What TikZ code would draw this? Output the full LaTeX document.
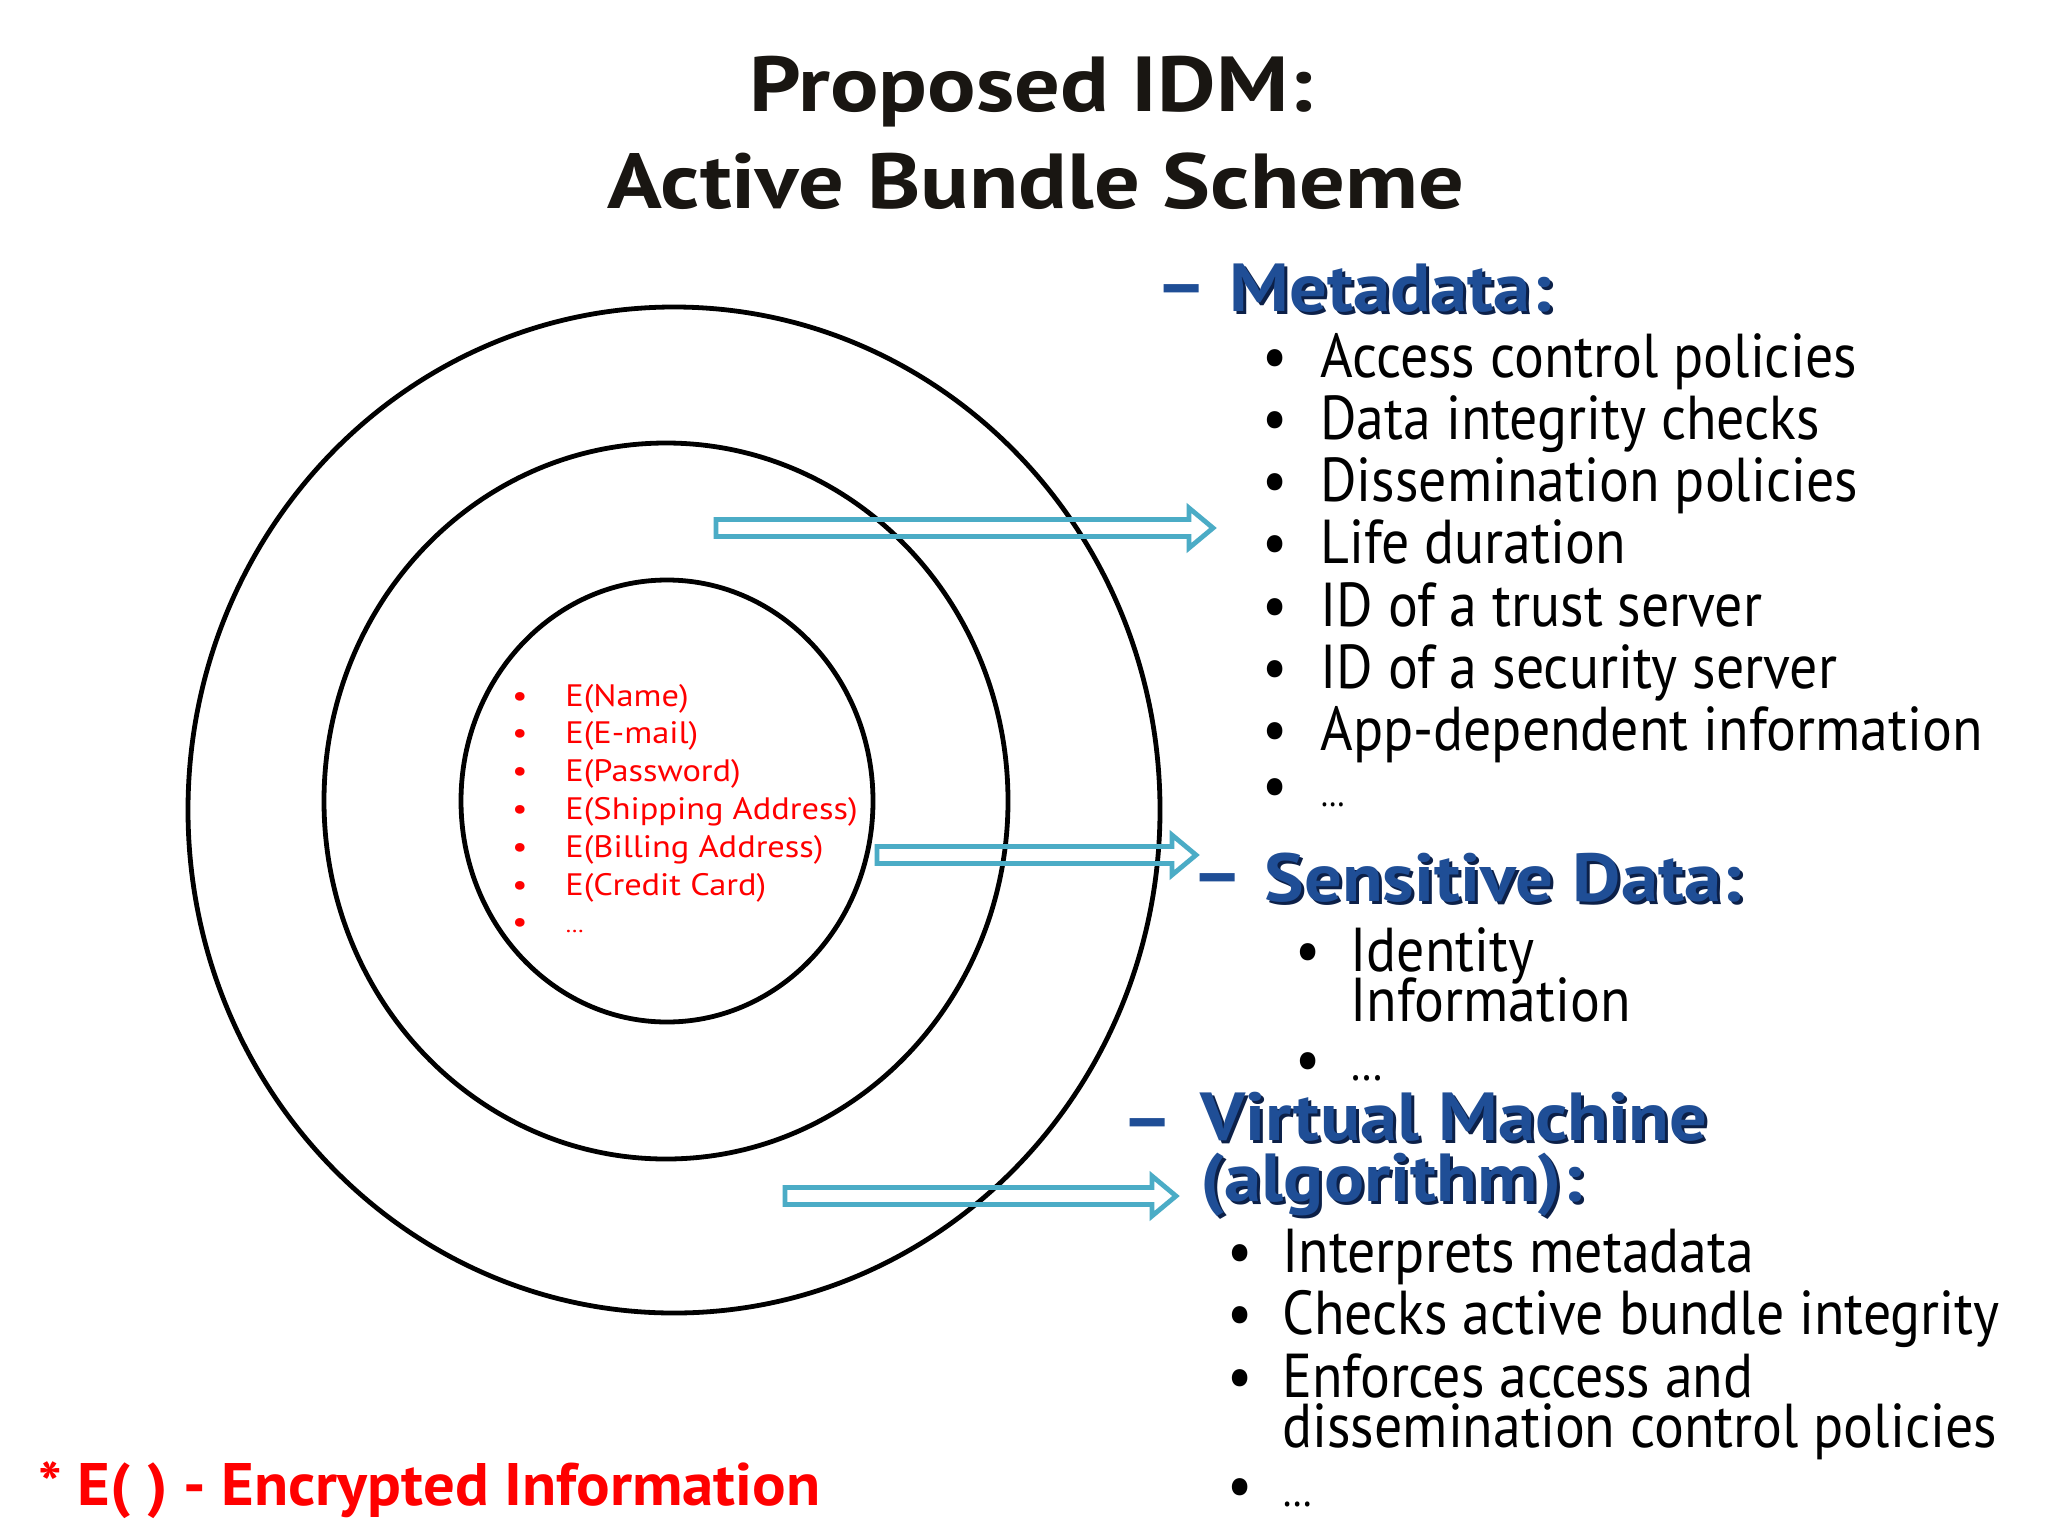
\documentclass[tikz,border=0pt]{standalone}
\usepackage{fontspec}
\setmainfont{PT Sans}
\newfontfamily\bodyf{PT Sans}[FakeStretch=0.9]
\newfontfamily\redf{PT Sans}[FakeStretch=1.11]
\newfontfamily\titlef{PT Sans}[FakeStretch=1.16]
\newfontfamily\footf{PT Sans}[FakeStretch=1.045]
\newfontfamily\headf{PT Sans}[FakeStretch=1.1]
\definecolor{hblue}{RGB}{31,78,150}
\definecolor{hshadow}{RGB}{12,32,72}
\definecolor{arrowc}{RGB}{75,172,198}
\definecolor{titlec}{RGB}{25,22,18}
\newcommand\tightlines{\lineskiplimit=-1000pt\relax}
\tikzset{
  ring/.style={draw=black, line width=2.4pt},
  hollow/.style={draw=arrowc, line width=2.4pt, line join=miter},
  body/.style={font=\bodyf\fontsize{31}{25}\selectfont\tightlines, anchor=base west, inner sep=0pt, align=left},
  bul/.style={font=\bodyf\fontsize{31}{37}\selectfont, anchor=base, inner sep=0pt},
  redt/.style={font=\redf\fontsize{15.5}{18}\selectfont, text=red, anchor=base west, inner sep=0pt},
  redb/.style={font=\redf\fontsize{15.5}{18}\selectfont, text=red, anchor=base, inner sep=0pt},
  head/.style={font=\headf\bfseries\fontsize{34}{30.5}\selectfont, text=hblue, anchor=base west, inner sep=0pt, align=left},
  hdash/.style={font=\headf\bfseries\fontsize{36}{40}\selectfont, text=hblue, anchor=west, inner sep=0pt},
  titlet/.style={font=\titlef\bfseries\fontsize{39}{46}\selectfont, text=titlec, anchor=base, inner sep=0pt},
  foot/.style={font=\footf\bfseries\fontsize{30}{36}\selectfont, text=red, anchor=base west, inner sep=0pt},
}
\newcommand\smalldots[1]{{\fontsize{#1}{#1}\selectfont\dots}}
\newcommand\shtext[1]{\rlap{\color{hshadow}\kern1.5pt\raisebox{-1.5pt}{#1}}#1}
\newcommand\hollowarrow[3]{%
  \draw[hollow] (#1,#3-8.5) -- (#2-24,#3-8.5) -- (#2-24,#3-20) -- (#2,#3)
    -- (#2-24,#3+20) -- (#2-24,#3+8.5) -- (#1,#3+8.5) -- cycle;}
\begin{document}
\begin{tikzpicture}[x=0.5pt,y=-0.5pt]
\path[use as bounding box, fill=white] (0,0) rectangle (2048,1536);

% title
\node[titlet] (t1) at (1031,112) {Proposed IDM:};
\node[titlet] (t2) at (1036,208) {Active Bundle Scheme};

% rings
\draw[ring] (674,810) ellipse [x radius=486, y radius=503];
\draw[ring] (666,801) ellipse [x radius=342, y radius=358];
\draw[ring] (667,801) ellipse [x radius=206, y radius=221];

% red list
\foreach \t [count=\i from 0] in {E(Name),E(E-mail),E(Password),E(Shipping Address),E(Billing Address),E(Credit Card),\smalldots{11}}{
  \node[redb] (rb\i) at (520,706+37.8*\i) {•};
  \node[redt] (r\i) at (565,706+37.8*\i) {\t};
}

% arrows
\hollowarrow{716}{1213}{528}
\hollowarrow{877}{1196}{855}
\hollowarrow{785}{1176}{1196}

% Metadata
\node[hdash] (d1) at (1155,297) {–};
\node[head] (md) at (1229,311) {\shtext{Metadata:}};
\foreach \t [count=\i from 0] in {Access control policies,Data integrity checks,Dissemination policies,Life duration,ID of a trust server,ID of a security server,App-dependent information}{
  \node[bul] (mb\i) at (1275,377+62.3*\i) {•};
  \node[body] (m\i) at (1320,377+62.3*\i) {\t};
}
\node[bul] (mb7) at (1275,806) {•};
\node[body] (m7) at (1320,806) {\smalldots{18}};

% Sensitive data
\node[hdash] (d2) at (1191,886) {–};
\node[head] (sd) at (1264,901) {\shtext{Sensitive Data:}};
\node[bul] (sb0) at (1308,971) {•};
\node[body] (s0) at (1350,1021) {Identity\\Information};
\node[bul] (sb1) at (1308,1080) {•};
\node[body] (s1) at (1350,1080) {\smalldots{24}};

% Virtual machine
\node[hdash] (d3) at (1121,1131) {–};
\node[head] (vm) at (1200,1201) {\shtext{Virtual Machine}\\\shtext{(algorithm):}};
\node[bul] (vb0) at (1240,1272) {•};
\node[body] (v0) at (1282,1272) {Interprets metadata};
\node[bul] (vb1) at (1240,1334) {•};
\node[body] (v1) at (1282,1334) {Checks active bundle integrity};
\node[bul] (vb2) at (1240,1397) {•};
\node[body] (v2) at (1282,1447) {Enforces access and\\dissemination control policies};
\node[bul] (vb3) at (1240,1506) {•};
\node[body] (v3) at (1282,1506) {\smalldots{22}};

% footnote
\node[foot] (fn) at (38,1505) {* E( ) - Encrypted Information};
\end{tikzpicture}
\end{document}
